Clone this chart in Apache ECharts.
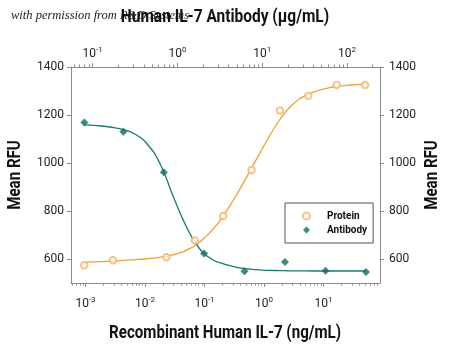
<!DOCTYPE html>
<html><head><meta charset="utf-8">
<script src="https://cdn.jsdelivr.net/npm/echarts@6/dist/echarts.min.js"></script>
<style>html,body{margin:0;padding:0;background:#fff}#c{width:450px;height:347px}</style>
</head><body><div id="c"></div>
<script>
// Recombinant Human IL-7 (ng/mL) -> Mean RFU
const proteinConc = [0.00095, 0.0029, 0.0229, 0.0686, 0.206, 0.617, 1.85, 5.56, 16.7, 50];
const proteinRFU  = [574, 595, 607, 677, 779, 971, 1219, 1280, 1325, 1325];
// Human IL-7 Antibody (ug/mL) -> Mean RFU
const antibodyConc = [0.0796, 0.23, 0.69, 2.06, 6.17, 18.5, 55.6, 167];
const antibodyRFU  = [1169, 1130, 961, 623, 549, 588, 551, 546];
// fitted curves: log10(concentration) and RFU
const proteinFitLog = [-3.0, -2.75, -2.5, -2.25, -2.0, -1.75, -1.5, -1.25, -1.0, -0.75, -0.5, -0.25, 0.0, 0.25, 0.5, 0.75, 1.0, 1.25, 1.5, 1.71];
const proteinFitRFU = [587, 589, 592, 596, 600, 607, 619, 643, 688, 757, 852, 960, 1072, 1175, 1248, 1287, 1308, 1320, 1326, 1329];
const antibodyFitLog = [-1.1, -0.95, -0.8, -0.65, -0.5, -0.35, -0.2, -0.05, 0.1, 0.25, 0.4, 0.55, 0.7, 0.85, 1.0, 1.15, 1.3, 1.45, 1.6, 1.75, 1.9, 2.05, 2.22];
const antibodyFitRFU = [1159, 1156, 1150, 1140, 1120, 1076, 993, 860, 738, 648, 600, 579, 565, 558, 554, 552, 551, 550.5, 550, 550, 550, 550, 550];
// axes
const yTicks = [600, 800, 1000, 1200, 1400];
const bottomDecades = [-3, -2, -1, 0, 1];
const topDecades = [-1, 0, 1, 2];

const FONT = 'Roboto, "Liberation Sans", sans-serif';
const ORANGE = '#F0A030', TEAL = '#167D6F', TEAL_D = '#0C6B5E', AXIS = '#8c8c8c';

const lg = v => Math.log10(v);
function minors(lo, hi) {
  const out = [];
  for (let n = -5; n <= 3; n++) for (let k = 2; k <= 9; k++) {
    const v = n + Math.log10(k);
    if (v > lo && v < hi) out.push(v);
  }
  return out;
}
const rich = { b: { fontSize: 12, fontFamily: FONT, color: '#222' }, s: { fontSize: 8, fontFamily: FONT, color: '#222', padding: [0, 0, 7, 0] } };
const powFmt = v => '{b|10}{s|' + Math.round(v) + '}';

const BMIN = -3.244, BMAX = 1.95, TMIN = -1.256, TMAX = 2.388;
function xAx(pos, min, max, major, isMinor) {
  return {
    type: 'value', position: pos, min: min, max: max, gridIndex: 0,
    axisLine: { show: !isMinor, onZero: false, lineStyle: { color: AXIS, width: 1 } },
    axisTick: { show: true, inside: false, length: isMinor ? 2.5 : 4, customValues: isMinor ? minors(min, max) : major, lineStyle: { color: AXIS } },
    axisLabel: { show: !isMinor, customValues: major, formatter: powFmt, rich: rich, margin: pos === 'bottom' ? 13 : 6 },
    splitLine: { show: false }
  };
}
function yAx(pos) {
  return {
    type: 'value', position: pos, min: 500, max: 1400,
    axisLine: { show: true, onZero: false, lineStyle: { color: AXIS, width: 1 } },
    axisTick: { show: true, length: 4, customValues: yTicks, lineStyle: { color: AXIS } },
    axisLabel: { customValues: yTicks, formatter: v => String(v), fontSize: 12, fontFamily: FONT, color: '#222', margin: pos === 'left' ? 7 : 9 },
    splitLine: { show: false }
  };
}
const titleStyle = (t) => ({ text: t, font: 'bold 18px ' + FONT, fill: '#111', textAlign: 'center', textVerticalAlign: 'middle' });
const chart = echarts.init(document.getElementById('c'), null, { renderer: 'canvas' });
chart.setOption({
  animation: false,
  backgroundColor: '#fff',
  grid: { left: 71, right: 70, top: 67, bottom: 64, outerBoundsMode: 'none', show: false },
  xAxis: [xAx('bottom', BMIN, BMAX, bottomDecades, false), xAx('top', TMIN, TMAX, topDecades, false),
          xAx('bottom', BMIN, BMAX, bottomDecades, true), xAx('top', TMIN, TMAX, topDecades, true)],
  yAxis: [yAx('left'), yAx('right')],
  legend: {
    data: [{ name: 'Protein', icon: 'emptyCircle' }, { name: 'Antibody', icon: 'diamond' }],
    orient: 'vertical', left: 285, top: 203, padding: [8, 6, 8, 17],
    borderColor: '#555', borderWidth: 1, backgroundColor: '#fff',
    itemWidth: 7, itemHeight: 7, itemGap: 4,
    textStyle: { fontSize: 10, fontWeight: 'bold', fontFamily: FONT, color: '#111', padding: [0, 0, 0, 12] }
  },
  series: [
    { name: 'ProteinFit', type: 'line', xAxisIndex: 0, yAxisIndex: 0, smooth: 0.5, showSymbol: false,
      lineStyle: { color: ORANGE, width: 1.3 }, data: proteinFitLog.map((x, i) => [x, proteinFitRFU[i]]), z: 2 },
    { name: 'AntibodyFit', type: 'line', xAxisIndex: 1, yAxisIndex: 0, smooth: 0.5, showSymbol: false,
      lineStyle: { color: TEAL, width: 1.3 }, data: antibodyFitLog.map((x, i) => [x, antibodyFitRFU[i]]), z: 2 },
    { name: 'Protein', type: 'scatter', xAxisIndex: 0, yAxisIndex: 0, symbol: 'emptyCircle', symbolSize: 6.5,
      itemStyle: { color: '#F3B46A', borderWidth: 0.8 }, data: proteinConc.map((c, i) => [lg(c), proteinRFU[i]]), z: 3 },
    { name: 'Antibody', type: 'scatter', xAxisIndex: 1, yAxisIndex: 0, symbol: 'diamond', symbolSize: 8,
      itemStyle: { color: TEAL_D }, data: antibodyConc.map((c, i) => [lg(c), antibodyRFU[i]]), z: 3 }
  ],
  graphic: [
    { type: 'text', x: 11, y: 16, z: 1, style: { text: 'with permission from R&D Systems', font: 'italic 12.5px "Liberation Serif", serif', fill: '#222', textAlign: 'left', textVerticalAlign: 'middle' } },
    { type: 'text', x: 225, y: 17, z: 2, scaleX: 0.86, style: titleStyle('Human IL-7 Antibody (μg/mL)') },
    { type: 'text', x: 225, y: 333, scaleX: 0.84, style: titleStyle('Recombinant Human IL-7 (ng/mL)') },
    { type: 'text', x: 15, y: 175, rotation: Math.PI / 2, scaleX: 0.84, style: titleStyle('Mean RFU') },
    { type: 'text', x: 432, y: 175, rotation: Math.PI / 2, scaleX: 0.84, style: titleStyle('Mean RFU') }
  ]
});
</script></body></html>
